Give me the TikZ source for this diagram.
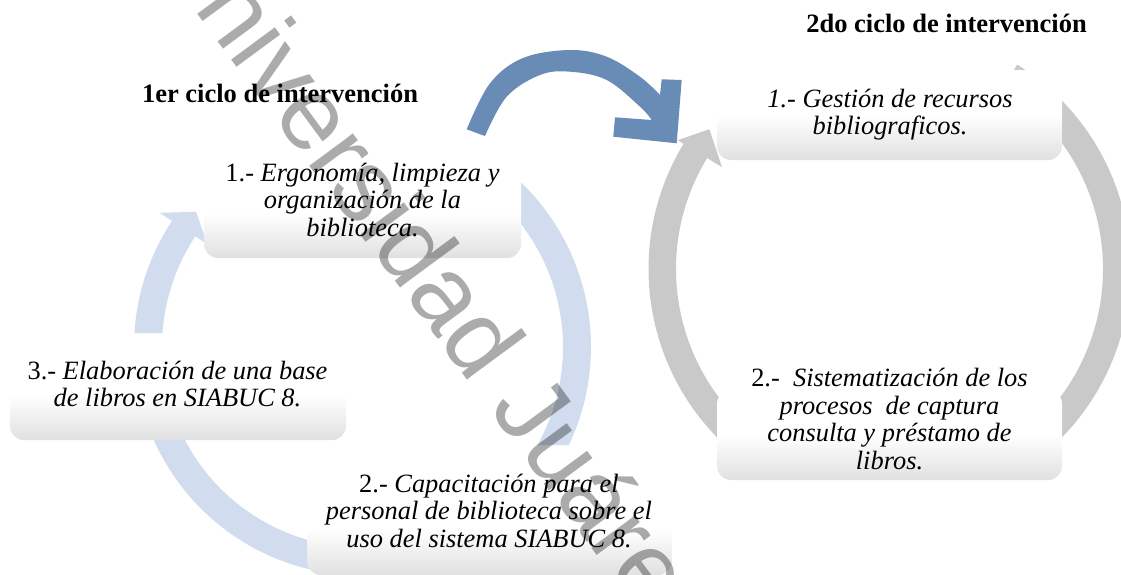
\documentclass[tikz,border=0pt]{standalone}
\usepackage{fontspec}
\setmainfont{Liberation Serif}
\newfontfamily\wmfont{Liberation Sans}
\usetikzlibrary{calc}
\definecolor{ringL}{HTML}{D1DDEF}
\definecolor{ringR}{HTML}{C9C9C9}
\definecolor{arrowB}{HTML}{698CB6}
\tikzset{
  stepbox/.style={rounded corners=7pt, inner sep=0pt, draw=none,
    top color=white, bottom color=black!12, middle color=white},
  boxtext/.style={anchor=north, inner sep=0pt, align=center,
    font=\fontsize{13.2}{13.75}\selectfont, execute at begin node=\strut},
  heading/.style={anchor=base, inner sep=0pt, font=\fontsize{13.25}{15}\selectfont\bfseries},
  wmark/.style={inner sep=0pt, rotate=-53.6, text=black, text opacity=0.33,
    font=\wmfont\fontsize{51.4}{60}\selectfont},
}
\begin{document}
\begin{tikzpicture}[x=0.5pt,y=0.5pt]
\useasboundingbox (0,0) rectangle (1121,-574);
\clip (0,0) rectangle (1121,-574);
\coordinate (CL) at (362.5,-347);
\coordinate (CR) at (889.5,-269);

% left cycle ring segments
\fill[ringL] ($(CL)+(176.5:228.5)$) arc[start angle=176.5, end angle=146.5, radius=228.5]
  -- ($(CL)+(146.5:243)$) -- ($(CL)+(140.9:214.5)$) -- ($(CL)+(146.5:186)$)
  -- ($(CL)+(146.5:200.5)$) arc[start angle=146.5, end angle=176, radius=200.5] -- cycle;
\fill[ringL] ($(CL)+(50:228.5)$) arc[start angle=50, end angle=-25.4, radius=228.5]
  -- ($(CL)+(-29.26:200.5)$) arc[start angle=-29.26, end angle=50, radius=200.5] -- cycle;
\fill[ringL] ($(CL)+(-95:228.5)$) arc[start angle=-95, end angle=-160, radius=228.5]
  -- ($(CL)+(-160:200.5)$) arc[start angle=-160, end angle=-95, radius=200.5] -- cycle;

% right cycle ring segments
\fill[ringR] ($(CR)+(-130:241)$) arc[start angle=-130, end angle=-211.3, radius=241]
  -- ($(CR)+(148.7:248)$) -- ($(CR)+(142.2:228)$) -- ($(CR)+(148.7:196)$)
  -- ($(CR)+(148.7:213.5)$) arc[start angle=148.7, end angle=230, radius=213.5] -- cycle;
\fill[ringR] ($(CR)+(58:241)$) arc[start angle=58, end angle=-50, radius=241]
  -- ($(CR)+(-50:213.5)$) arc[start angle=-50, end angle=58, radius=213.5] -- cycle;

% dark blue arrow between the cycles
\fill[arrowB] plot[smooth, tension=0.6] coordinates {(466.7,-129.3) (490,-83.3) (523,-58) (570,-50) (606.7,-56.7) (640,-76.7) (660,-95)}
  -- (661.7,-79.3) -- (681.7,-80) -- (676.7,-143.3) -- (613.3,-136.7) -- (615,-117.3)
  -- plot[smooth, tension=0.6] coordinates {(651.7,-120) (640,-106.7) (606.7,-80) (570,-71.7) (540,-75) (506.7,-96.7) (485,-136)}
  -- cycle;

% boxes
\node[stepbox, minimum width=158.5pt, minimum height=45pt] (bL1) at (362.5,-213) {};
\node[stepbox, minimum width=168pt, minimum height=45pt] (bL3) at (178,-395) {};
\node[stepbox, minimum width=182.5pt, minimum height=46pt] (bL2) at (489.5,-529) {};
\node[stepbox, minimum width=172.5pt, minimum height=45pt] (bR1) at (889.5,-115) {};
\node[stepbox, minimum width=172.5pt, minimum height=45pt] (bR2) at (889.5,-435) {};

% texts
\node[boxtext] (tL1) at (362.5,-162.75) {1.- \textit{Ergonomía, limpieza y}\\\textit{organización de la}\\\textit{biblioteca.}};
\node[boxtext] (tL3) at (177.5,-360.75) {3.- \textit{Elaboración de una base}\\\textit{de libros en SIABUC 8.}};
\node[boxtext] (tL2) at (489,-473.75) {2.- \textit{Capacitación para el}\\\textit{personal de biblioteca sobre el}\\\textit{uso del sistema SIABUC 8.}};
\node[boxtext] (tR1) at (890,-88.75) {\textit{1.- Gestión de recursos}\\\textit{bibliograficos.}};
\node[boxtext] (tR2) at (889.5,-367.75) {2.-\ \ \textit{Sistematización de los}\\\textit{procesos\ \ de captura}\\\textit{consulta y préstamo de}\\\textit{libros.}};

% headings
\node[heading] (h1) at (280,-102) {1er ciclo de intervención};
\node[heading] (h2) at (946.5,-32) {2do ciclo de intervención};

% watermark
\node[wmark] (wm) at (441,-281) {Universidad Juárez};
\end{tikzpicture}
\end{document}
